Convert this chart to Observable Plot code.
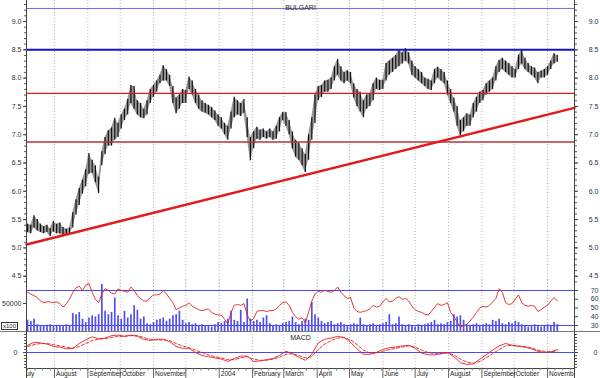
<!DOCTYPE html>
<html><head><meta charset="utf-8">
<script src="https://cdn.jsdelivr.net/npm/d3@7"></script>
<script src="https://cdn.jsdelivr.net/npm/@observablehq/plot@0.6"></script>
<style>
html,body{margin:0;padding:0;background:#fff;}
#chart{position:relative;width:600px;height:378px;overflow:hidden;background:#fff;}
#x100{position:absolute;left:1px;top:322px;border:1px solid #333;font:6px "Liberation Sans",Arial,sans-serif;line-height:6px;padding:0 1px;color:#222;background:#fff;}
#sep{position:absolute;left:0;top:331px;width:600px;height:1px;background:#777;}
</style></head><body><div id="chart"><div id="sep"></div><div id="x100">x100</div></div>
<script>
// ---------- data ----------
const title = "BULGARI";
const startDate = "2003-07-07";   // first bar, one bar every 3 days
const stepDays = 3;
const priceLow = [
5.27,5.25,5.35,5.30,5.27,5.25,5.27,5.20,5.28,5.25,
5.25,5.22,5.22,5.24,5.35,5.58,5.75,5.95,6.08,6.30,
6.32,6.15,5.96,6.45,6.65,6.80,6.80,6.90,6.95,7.10,
7.25,7.35,7.55,7.45,7.35,7.30,7.28,7.35,7.55,7.66,
7.75,7.90,7.95,7.95,7.85,7.55,7.37,7.45,7.55,7.55,
7.80,7.70,7.55,7.45,7.40,7.38,7.35,7.30,7.25,7.15,
7.10,7.00,6.90,7.10,7.30,7.35,7.32,7.38,6.95,6.54,
6.75,6.92,6.90,6.95,6.92,6.95,6.90,6.92,7.05,7.25,
7.15,7.00,6.75,6.60,6.55,6.45,6.33,6.55,6.90,7.20,
7.60,7.66,7.75,7.75,7.80,7.95,8.05,7.95,7.90,7.95,
7.90,7.65,7.50,7.40,7.30,7.45,7.50,7.60,7.80,7.78,
7.80,7.95,8.05,8.10,8.15,8.20,8.25,8.30,8.25,8.05,
8.00,7.95,7.90,7.85,7.80,7.78,7.90,8.00,7.95,7.90,
7.70,7.55,7.40,7.15,6.98,7.05,7.15,7.15,7.30,7.40,
7.55,7.60,7.70,7.75,7.80,7.95,8.10,8.15,8.10,8.05,
8.00,8.00,8.15,8.25,8.15,8.10,8.05,8.00,7.90,8.00,
8.00,8.05,8.15,8.25,8.28];
const priceHigh = [
5.42,5.40,5.57,5.50,5.42,5.38,5.40,5.34,5.47,5.42,
5.44,5.36,5.33,5.35,5.62,5.85,6.05,6.20,6.38,6.67,
6.55,6.45,6.25,6.70,6.95,7.07,7.12,7.29,7.20,7.35,
7.45,7.62,7.87,7.85,7.60,7.55,7.45,7.60,7.80,7.87,
7.95,8.05,8.22,8.15,8.05,7.85,7.65,7.70,7.80,7.78,
8.02,7.95,7.80,7.70,7.60,7.55,7.52,7.48,7.42,7.35,
7.30,7.20,7.15,7.40,7.66,7.60,7.55,7.62,7.30,6.95,
7.05,7.13,7.08,7.10,7.05,7.10,7.05,7.15,7.30,7.39,
7.39,7.25,7.05,6.90,6.85,6.75,6.65,7.00,7.30,7.70,
7.85,7.87,7.95,7.96,8.00,8.20,8.33,8.20,8.10,8.13,
8.10,7.90,7.80,7.75,7.60,7.70,7.72,7.90,8.00,7.96,
7.96,8.26,8.30,8.35,8.40,8.49,8.45,8.52,8.45,8.30,
8.20,8.15,8.10,8.00,7.98,7.95,8.15,8.19,8.15,8.10,
7.95,7.80,7.65,7.50,7.25,7.30,7.37,7.35,7.55,7.66,
7.75,7.78,7.90,7.95,8.00,8.20,8.31,8.35,8.30,8.26,
8.20,8.15,8.40,8.49,8.35,8.26,8.20,8.18,8.10,8.12,
8.15,8.20,8.30,8.43,8.40];
const volume = [
20000,18000,22000,12000,10000,9000,11000,12000,9000,11000,
10000,9000,12000,10000,32000,30000,34000,22000,16000,24000,
28000,26000,30000,84000,36000,30000,34000,60000,28000,22000,
36000,24000,30000,46000,38000,22000,26000,14000,12000,16000,
20000,22000,24000,18000,22000,28000,30000,36000,20000,14000,
16000,12000,14000,10000,12000,10000,9000,8000,12000,16000,
14000,18000,22000,36000,20000,18000,38000,16000,58000,22000,
18000,20000,16000,24000,28000,14000,10000,12000,10000,14000,
16000,18000,26000,16000,12000,18000,22000,20000,52000,30000,
24000,18000,14000,16000,18000,12000,14000,16000,12000,10000,
12000,14000,12000,24000,12000,10000,12000,14000,10000,12000,
14000,16000,30000,12000,14000,26000,12000,10000,12000,10000,
8000,12000,10000,12000,14000,16000,20000,12000,14000,12000,
16000,18000,30000,26000,28000,20000,12000,10000,12000,14000,
10000,12000,14000,12000,20000,18000,22000,14000,12000,16000,
14000,18000,16000,12000,10000,8000,10000,12000,10000,8000,
10000,12000,10000,16000,12000];
const rsi = [
68,66,64,62,58,56,57,57,56,57,
55,51,55,60,68,73,75,70,76,78,
68,60,56,66,72,70,67,66,72,70,
69,68,74,70,64,61,58,58,62,65,
65,66,70,66,61,56,48,50,52,53,
56,52,50,48,47,48,49,45,43,42,
42,37,32,45,53,54,53,55,42,35,
38,46,47,47,46,47,47,49,53,56,
57,53,45,40,37,39,33,45,58,66,
69,68,70,69,68,70,74,68,64,61,
62,50,46,45,46,47,49,53,51,52,
57,61,57,58,61,63,60,61,58,52,
48,46,45,43,42,46,51,55,53,54,
56,45,40,34,28,30,31,35,40,45,
50,52,51,53,57,61,72,68,56,54,
55,60,65,56,53,52,53,52,46,48,
51,53,58,62,58];
const macdStepDays = 6;  // MACD read every 6 days from startDate
const macd = [
0.12,0.17,0.16,0.14,0.10,0.09,0.06,0.07,0.15,0.21,
0.26,0.23,0.24,0.28,0.29,0.27,0.29,0.27,0.22,0.20,
0.22,0.22,0.18,0.10,0.07,0.07,0.00,-0.05,-0.07,-0.09,
-0.11,-0.15,-0.10,-0.06,-0.06,-0.15,-0.14,-0.12,-0.10,-0.05,
0.02,-0.02,-0.08,-0.13,-0.03,0.16,0.22,0.24,0.27,0.25,
0.17,0.06,-0.03,-0.03,0.00,0.05,0.08,0.09,0.11,0.12,
0.07,-0.01,-0.04,-0.04,-0.02,0.00,-0.07,-0.17,-0.20,-0.19,
-0.11,-0.04,0.04,0.11,0.15,0.12,0.10,0.09,0.06,0.02,
0.00,0.01,0.05];
const macdSignal = [
0.10,0.13,0.15,0.15,0.13,0.11,0.09,0.07,0.10,0.15,
0.20,0.22,0.23,0.25,0.27,0.27,0.28,0.28,0.25,0.22,
0.21,0.21,0.20,0.15,0.11,0.08,0.04,0.00,-0.04,-0.07,
-0.09,-0.12,-0.12,-0.09,-0.07,-0.11,-0.13,-0.13,-0.11,-0.08,
-0.03,-0.02,-0.05,-0.09,-0.07,0.05,0.14,0.20,0.24,0.25,
0.21,0.13,0.04,-0.01,-0.01,0.02,0.05,0.07,0.09,0.11,
0.09,0.04,0.00,-0.02,-0.02,-0.01,-0.04,-0.11,-0.16,-0.18,
-0.15,-0.09,-0.02,0.05,0.11,0.12,0.11,0.10,0.08,0.04,
0.02,0.01,0.03];
const levelValues = [9.23, 8.5, 7.73, 6.87];
const trendDates = ["2003-07-06", "2004-11-26"];
const trendValues = [5.06, 7.475];
const monthLabels = ["July","August","September","October","November","","2004","February","March","April","May","June","July","August","September","October","November"];
const priceTicks = [4.5,5.0,5.5,6.0,6.5,7.0,7.5,8.0,8.5,9.0];
const rsiTicks = [30,40,50,60,70];
const rsiBands = [30,70];
const volumeTicks = [50000];
const macdTicks = [0];

// ---------- build ----------
const DAY = 864e5;
const t0 = Date.parse(startDate);
const d0 = new Date(Date.UTC(2003,6,6)), d1 = new Date(Date.UTC(2004,10,26));
const bars = priceLow.map((lo,i)=>({date:new Date(t0+i*stepDays*DAY), lo, hi:priceHigh[i], vol:volume[i], rsi:rsi[i]}));
const macdRows = macd.map((m,i)=>({date:new Date(t0+i*macdStepDays*DAY), m, s:macdSignal[i]}));
const trend = trendDates.map((d,i)=>({date:new Date(d), v:trendValues[i]}));
const months = d3.utcMonth.range(new Date(Date.UTC(2003,6,1)), new Date(Date.UTC(2004,11,1)));
const monthRows = months.map((d,i)=>({date:d, label:monthLabels[i]}));
const grid = months.filter(d=>d>d0 && d<d1);
const weeks = d3.utcMonday.range(d0, d1);

const FONT = '"Liberation Sans", Arial, sans-serif';
const style = {background:"transparent", fontFamily:FONT, fontSize:"7px", color:"#222", overflow:"visible"};
const X = {type:"utc", domain:[d0,d1], axis:null};
const M = {width:600, marginLeft:26, marginRight:26, marginTop:0, marginBottom:0};
const chart = document.getElementById("chart");
function place(svg, top){svg.style.position="absolute";svg.style.left="0px";svg.style.top=top+"px";chart.appendChild(svg);}
const gridMark = ()=>Plot.ruleX(grid, {stroke:"#b8b8b8", strokeDasharray:"1,2", strokeWidth:1});
const sides = ()=>Plot.ruleX([d0,d1], {stroke:"#444", strokeWidth:1});
const blank = ()=>"";

// price panel
place(Plot.plot({...M, height:286, style, x:X,
  y:{domain:[4.318, 9.371]},
  marks:[
    gridMark(),
    Plot.areaY(bars, {x:"date", y1:"lo", y2:"hi", fill:"#999", curve:"linear"}),
    Plot.ruleX(bars, {x:"date", y1:"lo", y2:"hi", stroke:"#111", strokeWidth:1.2}),
    Plot.ruleY([levelValues[0]], {stroke:"#7070ee", strokeWidth:1}),
    Plot.ruleY([levelValues[1]], {stroke:"#1414cc", strokeWidth:2}),
    Plot.ruleY([levelValues[2]], {stroke:"#e41818", strokeWidth:1.4}),
    Plot.ruleY([levelValues[3]], {stroke:"#b53434", strokeWidth:1.4}),
    Plot.line(trend, {x:"date", y:"v", stroke:"#e41a1a", strokeWidth:2.4}),
    Plot.text([title], {frameAnchor:"top", dy:5, fontSize:7, fill:"#222"}),
    Plot.axisY(d3.range(44,94).map(v=>v/10), {anchor:"left", tickSize:2, tickFormat:blank, label:null, stroke:"#555"}),
    Plot.axisY(d3.range(44,94).map(v=>v/10), {anchor:"right", tickSize:2, tickFormat:blank, label:null, stroke:"#555"}),
    Plot.axisY(priceTicks, {anchor:"left", tickSize:3, tickPadding:2, tickFormat:d=>d.toFixed(1), label:null, fill:"#333", stroke:"#444"}),
    Plot.axisY(priceTicks, {anchor:"right", tickSize:3, tickPadding:21, textAnchor:"end", tickFormat:d=>d.toFixed(1), label:null, fill:"#333", stroke:"#444"}),
    sides()
  ]}), 0);

// volume panel
place(Plot.plot({...M, height:51, style, x:X,
  y:{domain:[0, 91071]},
  marks:[
    gridMark(),
    Plot.ruleX(bars, {x:"date", y1:0, y2:"vol", stroke:"#5050f0", strokeWidth:1.7}),
    Plot.axisY(volumeTicks, {anchor:"left", tickSize:3, tickPadding:2, tickFormat:d3.format("d"), label:null, fill:"#333", stroke:"#444"}),
    sides()
  ]}), 280);

// RSI panel
place(Plot.plot({...M, height:51, style, x:X,
  y:{domain:[23.14, 81.43]},
  marks:[
    Plot.ruleY(rsiBands, {stroke:"#4848ee", strokeWidth:1}),
    Plot.line(bars, {x:"date", y:"rsi", stroke:"#e02424", strokeWidth:0.9}),
    Plot.axisY(rsiTicks, {anchor:"right", tickSize:3, tickPadding:21, textAnchor:"end", label:null, fill:"#333", stroke:"#444"})
  ]}), 280);

// MACD panel
place(Plot.plot({...M, height:37, style, x:X,
  y:{domain:[-0.267, 0.35]},
  marks:[
    gridMark(),
    Plot.ruleY([0], {stroke:"#4848ee", strokeWidth:1}),
    Plot.line(macdRows, {x:"date", y:"s", stroke:"#e02424", strokeWidth:0.9, strokeDasharray:"3,2"}),
    Plot.line(macdRows, {x:"date", y:"m", stroke:"#e02424", strokeWidth:0.9}),
    Plot.text(["MACD"], {frameAnchor:"top", dy:4, fontSize:7, fill:"#222"}),
    Plot.axisY(d3.range(-5,7).map(v=>v*0.05), {anchor:"left", tickSize:2, tickFormat:blank, label:null, stroke:"#555"}),
    Plot.axisY(d3.range(-5,7).map(v=>v*0.05), {anchor:"right", tickSize:2, tickFormat:blank, label:null, stroke:"#555"}),
    Plot.axisY(macdTicks, {anchor:"left", tickSize:3, tickPadding:6, tickFormat:d=>String(d), label:null, fill:"#333", stroke:"#444"}),
    Plot.axisY(macdTicks, {anchor:"right", tickSize:3, tickPadding:20, textAnchor:"end", tickFormat:d=>String(d), label:null, fill:"#333", stroke:"#444"}),
    Plot.ruleY([-0.267], {stroke:"#444"}),
    sides()
  ]}), 331);

// time axis strip
place(Plot.plot({...M, height:10, style, x:X,
  y:{domain:[0,1], axis:null},
  marks:[
    Plot.ruleX(weeks, {y1:1, y2:0.75, stroke:"#777"}),
    Plot.ruleX(grid, {y1:1, y2:0, stroke:"#666"}),
    Plot.text(monthRows, {x:"date", y:0.45, text:"label", textAnchor:"start", dx:1.5, fontSize:6.6, fill:"#222", clip:true}),
    sides()
  ]}), 368);
</script></body></html>
